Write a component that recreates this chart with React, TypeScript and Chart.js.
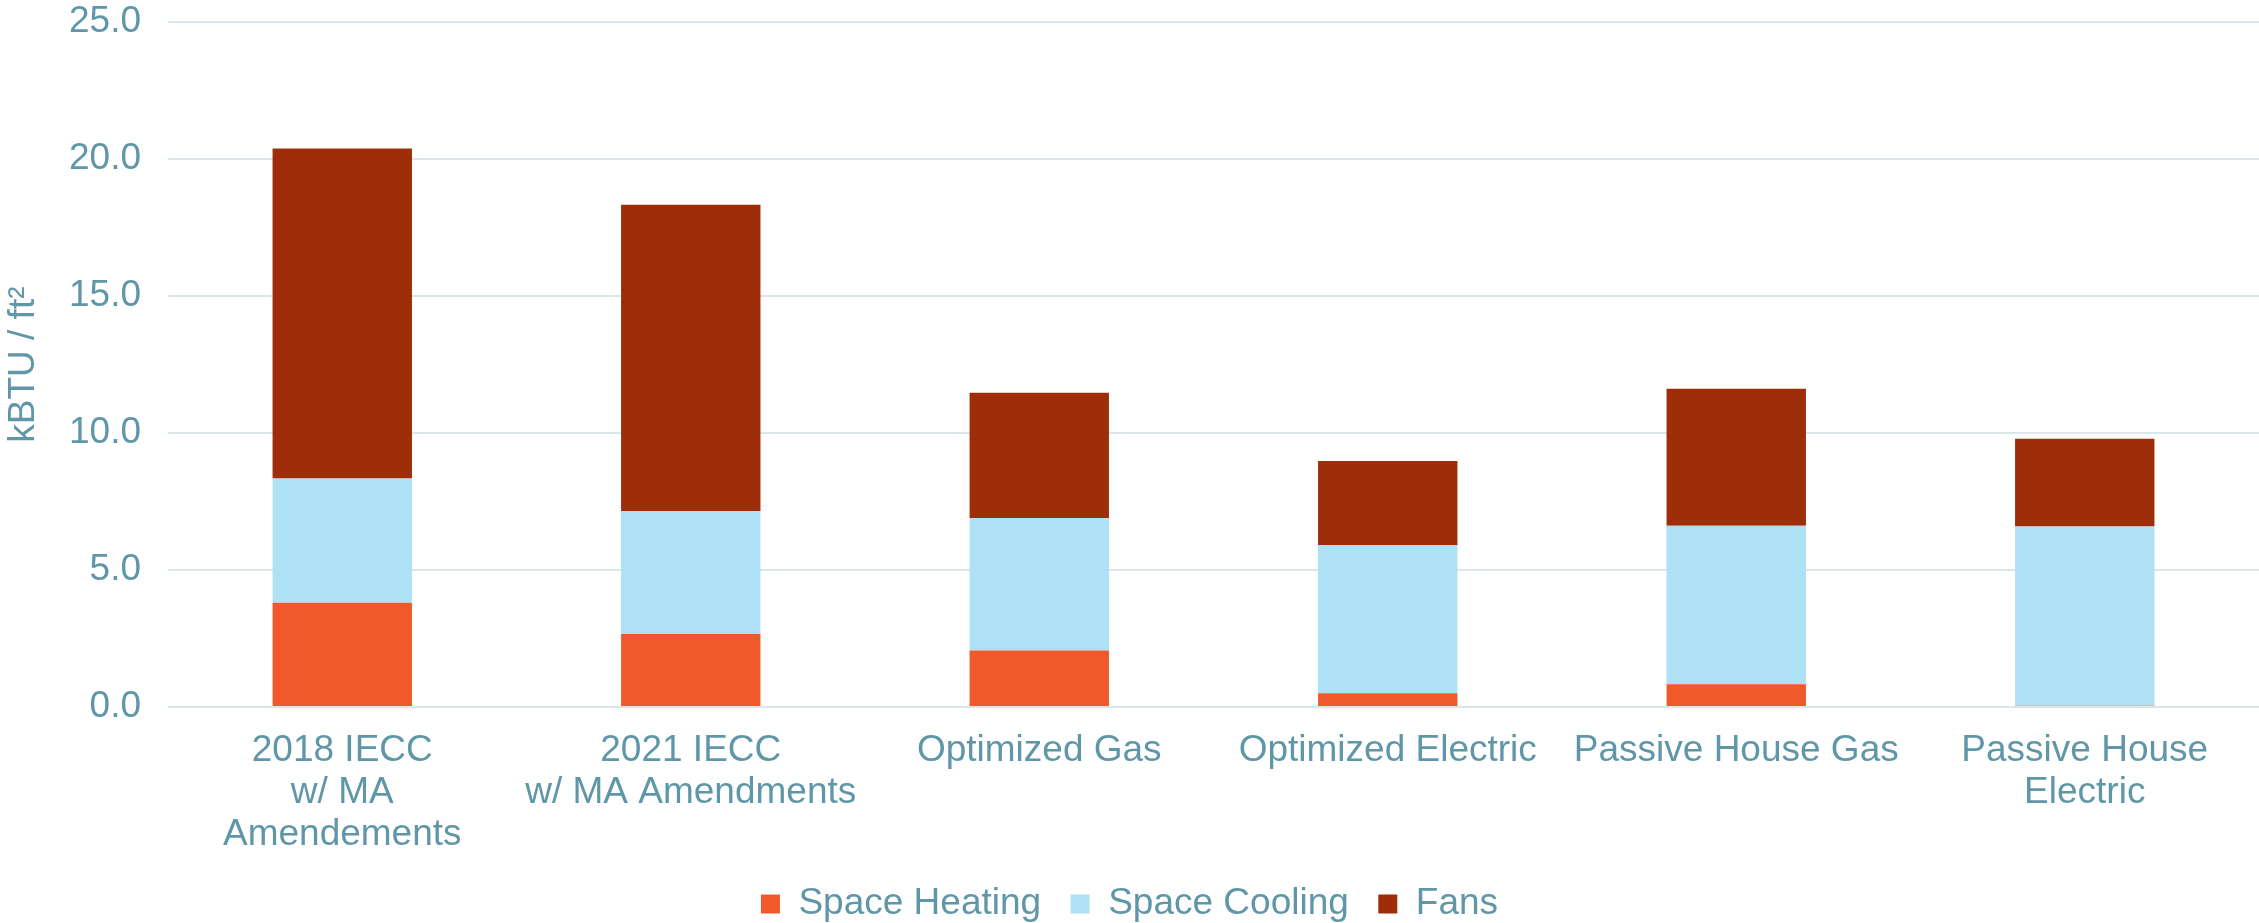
import React, { useEffect, useRef } from "react";
import { Chart, registerables } from "chart.js";

Chart.register(...registerables);

const categories: (string | string[])[] = [
  ["2018 IECC", "w/ MA", "Amendements"],
  ["2021 IECC", "w/ MA Amendments"],
  "Optimized Gas",
  "Optimized Electric",
  "Passive House Gas",
  ["Passive House", "Electric"],
];

const spaceHeating = [3.81, 2.67, 2.06, 0.5, 0.83, 0.05];
const spaceCooling = [4.53, 4.49, 4.84, 5.41, 5.79, 6.54];
const fans = [12.05, 11.18, 4.57, 3.07, 5.0, 3.2];

const yTicks = [0, 5, 10, 15, 20, 25];

const TEXT = "#5F97A8";
const GRID = "#D9E6EA";
const FONT = "'Liberation Sans', Arial, sans-serif";
const CLEAR = "rgba(0,0,0,0)";

export default function App() {
  const ref = useRef<HTMLCanvasElement | null>(null);

  useEffect(() => {
    document.body.style.margin = "0";
    const canvas = ref.current;
    if (!canvas) return;
    const chart = new Chart(canvas, {
      type: "bar",
      data: {
        labels: categories as any,
        datasets: [
          { label: "Space Heating", data: spaceHeating, backgroundColor: "#F05A2B", borderWidth: 0 },
          { label: "Space Cooling", data: spaceCooling, backgroundColor: "#AEE1F5", borderWidth: 0 },
          { label: "Fans", data: fans, backgroundColor: "#9E2E0A", borderWidth: 0 },
        ],
      },
      options: {
        responsive: false,
        animation: false,
        devicePixelRatio: 1,
        layout: { padding: { top: 0, right: 0, left: 0, bottom: -9.5 } },
        datasets: { bar: { categoryPercentage: 1, barPercentage: 0.4 } } as any,
        plugins: {
          tooltip: { enabled: false },
          legend: {
            position: "bottom",
            labels: {
              color: TEXT,
              boxWidth: 19,
              boxHeight: 19,
              padding: 29.5,
              font: { family: FONT, size: 37 },
            },
          },
        },
        scales: {
          x: {
            stacked: true,
            grid: { display: true, color: CLEAR, drawTicks: true, tickLength: 23, tickColor: CLEAR },
            border: { display: false },
            ticks: {
              color: TEXT,
              padding: 0,
              autoSkip: false,
              maxRotation: 0,
              minRotation: 0,
              font: { family: FONT, size: 37, lineHeight: 1.135 },
            },
          },
          y: {
            stacked: true,
            min: yTicks[0],
            max: yTicks[yTicks.length - 1],
            grid: { color: GRID, lineWidth: 2, drawTicks: true, tickLength: 27, tickColor: CLEAR },
            border: { display: false },
            afterBuildTicks: (axis: any) => {
              axis.ticks = yTicks.map((v) => ({ value: v }));
            },
            ticks: {
              color: TEXT,
              padding: 0,
              font: { family: FONT, size: 37 },
              callback: (v: any) => Number(v).toFixed(1),
            },
            title: {
              display: true,
              text: "kBTU / ft²",
              color: TEXT,
              padding: { top: 5, bottom: 27 },
              font: { family: FONT, size: 37, lineHeight: 1 },
            },
          },
        },
      },
    });
    return () => chart.destroy();
  }, []);

  return (
    <div style={{ width: 2259, height: 923 }}>
      <canvas ref={ref} width={2259} height={923} />
    </div>
  );
}
